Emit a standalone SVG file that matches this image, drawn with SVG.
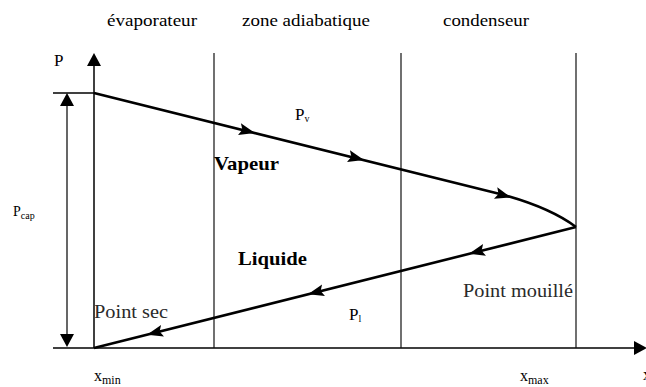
<svg xmlns="http://www.w3.org/2000/svg" width="646" height="387" viewBox="0 0 646 387">
<style>
text{font-family:"Liberation Serif","Times New Roman",Times,"DejaVu Serif","Noto Serif",FreeSerif,serif;fill:#000}
.g{fill:#2a2a2a}
.b{font-weight:bold}
.ax{stroke:#000;stroke-width:1.5;fill:none}
.sep{stroke:#111;stroke-width:1.2;fill:none}
.thick{stroke:#000;stroke-width:2.6;fill:none}
.thin{stroke:#000;stroke-width:1.2;fill:none}
.ah{fill:#000}
</style>
<defs>
<path id="head" d="M0,0 L-16,-6 L-13,0 L-16,6 Z"/>
<path id="axhead" d="M0,0 L-13,-7 L-13,7 Z"/>
</defs>
<rect width="646" height="387" fill="#fff"/>
<g id="connectors">
  <line class="ax" x1="94" y1="62" x2="94" y2="348"/>
  <use href="#axhead" class="ah" transform="translate(94,53) rotate(-90)"/>
  <line class="ax" x1="53" y1="348" x2="638" y2="348"/>
  <use href="#axhead" class="ah" transform="translate(647,348)"/>
  <line class="ax" x1="53" y1="93" x2="94" y2="93"/>
  <line class="sep" x1="214" y1="53" x2="214" y2="348"/>
  <line class="sep" x1="401" y1="53" x2="401" y2="348"/>
  <line class="sep" x1="576" y1="53" x2="576" y2="348"/>
  <line class="thin" x1="67" y1="104" x2="67" y2="337"/>
  <use href="#axhead" class="ah" transform="translate(67,93) rotate(-90)"/>
  <use href="#axhead" class="ah" transform="translate(67,347) rotate(90)"/>
  <path class="thick" d="M94,93 L500,194 Q549,207 576,227"/>
  <use href="#head" class="ah" transform="translate(255,133) rotate(14)"/>
  <use href="#head" class="ah" transform="translate(364,160) rotate(14)"/>
  <use href="#head" class="ah" transform="translate(511,197.5) rotate(16)"/>
  <path class="thick" d="M576,227 L94,348"/>
  <use href="#head" class="ah" transform="translate(469,253.8) rotate(165.9)"/>
  <use href="#head" class="ah" transform="translate(308,294.2) rotate(165.9)"/>
  <use href="#head" class="ah" transform="translate(147,334.7) rotate(165.9)"/>
</g>
<g id="zone-labels">
  <text x="107" y="25.5" font-size="17" textLength="90" lengthAdjust="spacingAndGlyphs">évaporateur</text>
  <text x="242" y="25.5" font-size="17" textLength="128" lengthAdjust="spacingAndGlyphs">zone adiabatique</text>
  <text x="443" y="25.5" font-size="17" textLength="86" lengthAdjust="spacingAndGlyphs">condenseur</text>
</g>
<g id="axis-labels">
  <text x="54" y="66" font-size="17">P</text>
  <text x="13" y="216" font-size="14">P<tspan font-size="10" dy="3">cap</tspan></text>
  <text x="94" y="381" font-size="16">x<tspan font-size="12" dy="3">min</tspan></text>
  <text x="520" y="381" font-size="16">x<tspan font-size="12" dy="3">max</tspan></text>
  <text x="643" y="380" font-size="16">x</text>
</g>
<g id="vapeur">
  <text class="b" x="214" y="170" font-size="19" textLength="65" lengthAdjust="spacingAndGlyphs">Vapeur</text>
  <text x="295" y="119.5" font-size="17">P<tspan font-size="10" dy="2">v</tspan></text>
</g>
<g id="liquide">
  <text class="b" x="238" y="265" font-size="19" textLength="69" lengthAdjust="spacingAndGlyphs">Liquide</text>
  <text x="349" y="320" font-size="17">P<tspan font-size="10" dy="2">l</tspan></text>
</g>
<g id="point-sec">
  <text class="g" x="94" y="318" font-size="19" textLength="74" lengthAdjust="spacingAndGlyphs">Point sec</text>
</g>
<g id="point-mouille">
  <text class="g" x="463" y="297" font-size="19" textLength="110" lengthAdjust="spacingAndGlyphs">Point mouillé</text>
</g>
</svg>
